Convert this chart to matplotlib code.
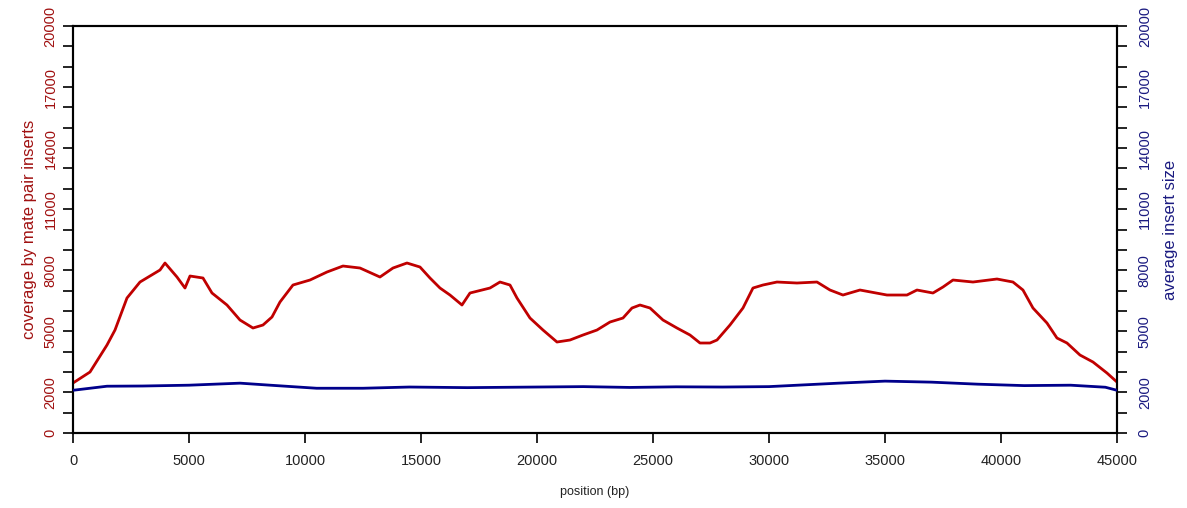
import matplotlib
matplotlib.use("Agg")
import matplotlib.pyplot as plt

plt.rcParams['font.family'] = ['Liberation Sans', 'DejaVu Sans']

# coverage by mate pair inserts
cov_pos = [0, 733, 1465, 1810, 2327, 2888, 3319, 3750, 3965, 4482, 4827, 5043,
           5603, 5991, 6637, 7198, 7758, 8189, 8577, 8922, 9482, 10215, 10948,
           11637, 12370, 13232, 13793, 14396, 14957, 15388, 15819, 16250, 16767,
           17112, 17974, 18405, 18836, 19138, 19698, 20259, 20862, 21422, 21983,
           22586, 23147, 23707, 24095, 24440, 24871, 25431, 26034, 26595, 27026,
           27457, 27759, 28319, 28879, 29310, 29741, 30345, 31207, 32069, 32629,
           33189, 33922, 35086, 35948, 36379, 37069, 37500, 37931, 38793, 39828,
           40517, 40948, 41379, 41983, 42414, 42845, 43405, 43966, 44569, 45000]
cov_val = [2457, 2998, 4324, 5061, 6634, 7420, 7715, 8010, 8354, 7666, 7125, 7715,
           7617, 6880, 6290, 5553, 5160, 5307, 5700, 6437, 7273, 7518, 7912,
           8206, 8108, 7666, 8108, 8354, 8157, 7617, 7125, 6781, 6290,
           6880, 7125, 7420, 7273, 6634, 5651, 5061, 4472, 4570, 4816,
           5061, 5454, 5651, 6143, 6290, 6143, 5553, 5160, 4816, 4423,
           4423, 4570, 5307, 6143, 7125, 7273, 7420, 7371, 7420, 7027,
           6781, 7027, 6781, 6781, 7027, 6880, 7174, 7518, 7420, 7568,
           7420, 7027, 6143, 5405, 4668, 4423, 3833, 3489, 2948, 2506]

# average insert size
ins_pos = [0, 733, 1465, 3000, 5000, 7200, 8500, 10500, 12500, 14500, 17000,
           20000, 22000, 24000, 26000, 28000, 30000, 33000, 35000, 37000, 39000,
           41000, 43000, 44500, 45000]
ins_val = [2100, 2200, 2300, 2310, 2350, 2450, 2350, 2200, 2200, 2260, 2230,
           2260, 2280, 2240, 2270, 2260, 2280, 2450, 2550, 2500, 2400,
           2330, 2350, 2250, 2100]

x_ticks = [0, 5000, 10000, 15000, 20000, 25000, 30000, 35000, 40000, 45000]
y_ticks = list(range(0, 20001, 1000))
y_labelled = [0, 2000, 5000, 8000, 11000, 14000, 17000, 20000]

red = '#a01010'
blue = '#1a1a80'

fig = plt.figure(figsize=(11.87, 5.08), dpi=100)
ax = fig.add_axes([0.0615, 0.1476, 0.8795, 0.8012])
ax2 = ax.twinx()

ax.plot(cov_pos, cov_val, color='#c00000', lw=2.0, zorder=3)
ax2.plot(ins_pos, ins_val, color='#00008b', lw=2.0, zorder=3)

for a in (ax, ax2):
    a.set_xlim(0, 45000)
    a.set_ylim(0, 20000)
    a.set_yticks(y_ticks)
    a.set_yticklabels([str(t) if t in y_labelled else '' for t in y_ticks],
                      rotation=90, va='center')
    for s in a.spines.values():
        s.set_linewidth(1.5)
        s.set_color('black')

ax.set_xticks(x_ticks)
ax.set_xticklabels([str(t) for t in x_ticks])
ax.tick_params(axis='x', length=7, width=1.2, pad=8, labelsize=10.5,
               labelcolor='#222222')
ax.tick_params(axis='y', length=7, width=1.2, pad=4, labelsize=10.5,
               labelcolor=red)
ax2.tick_params(axis='y', length=7, width=1.2, pad=8, labelsize=10.5,
                labelcolor=blue)

ax.set_ylabel('coverage by mate pair inserts', color=red, fontsize=12, labelpad=5)
ax2.set_ylabel('average insert size', color=blue, fontsize=12, labelpad=8)
ax.set_xlabel('position (bp)', fontsize=9, color='#222222', labelpad=13)

fig.savefig('out.png', dpi=100)
